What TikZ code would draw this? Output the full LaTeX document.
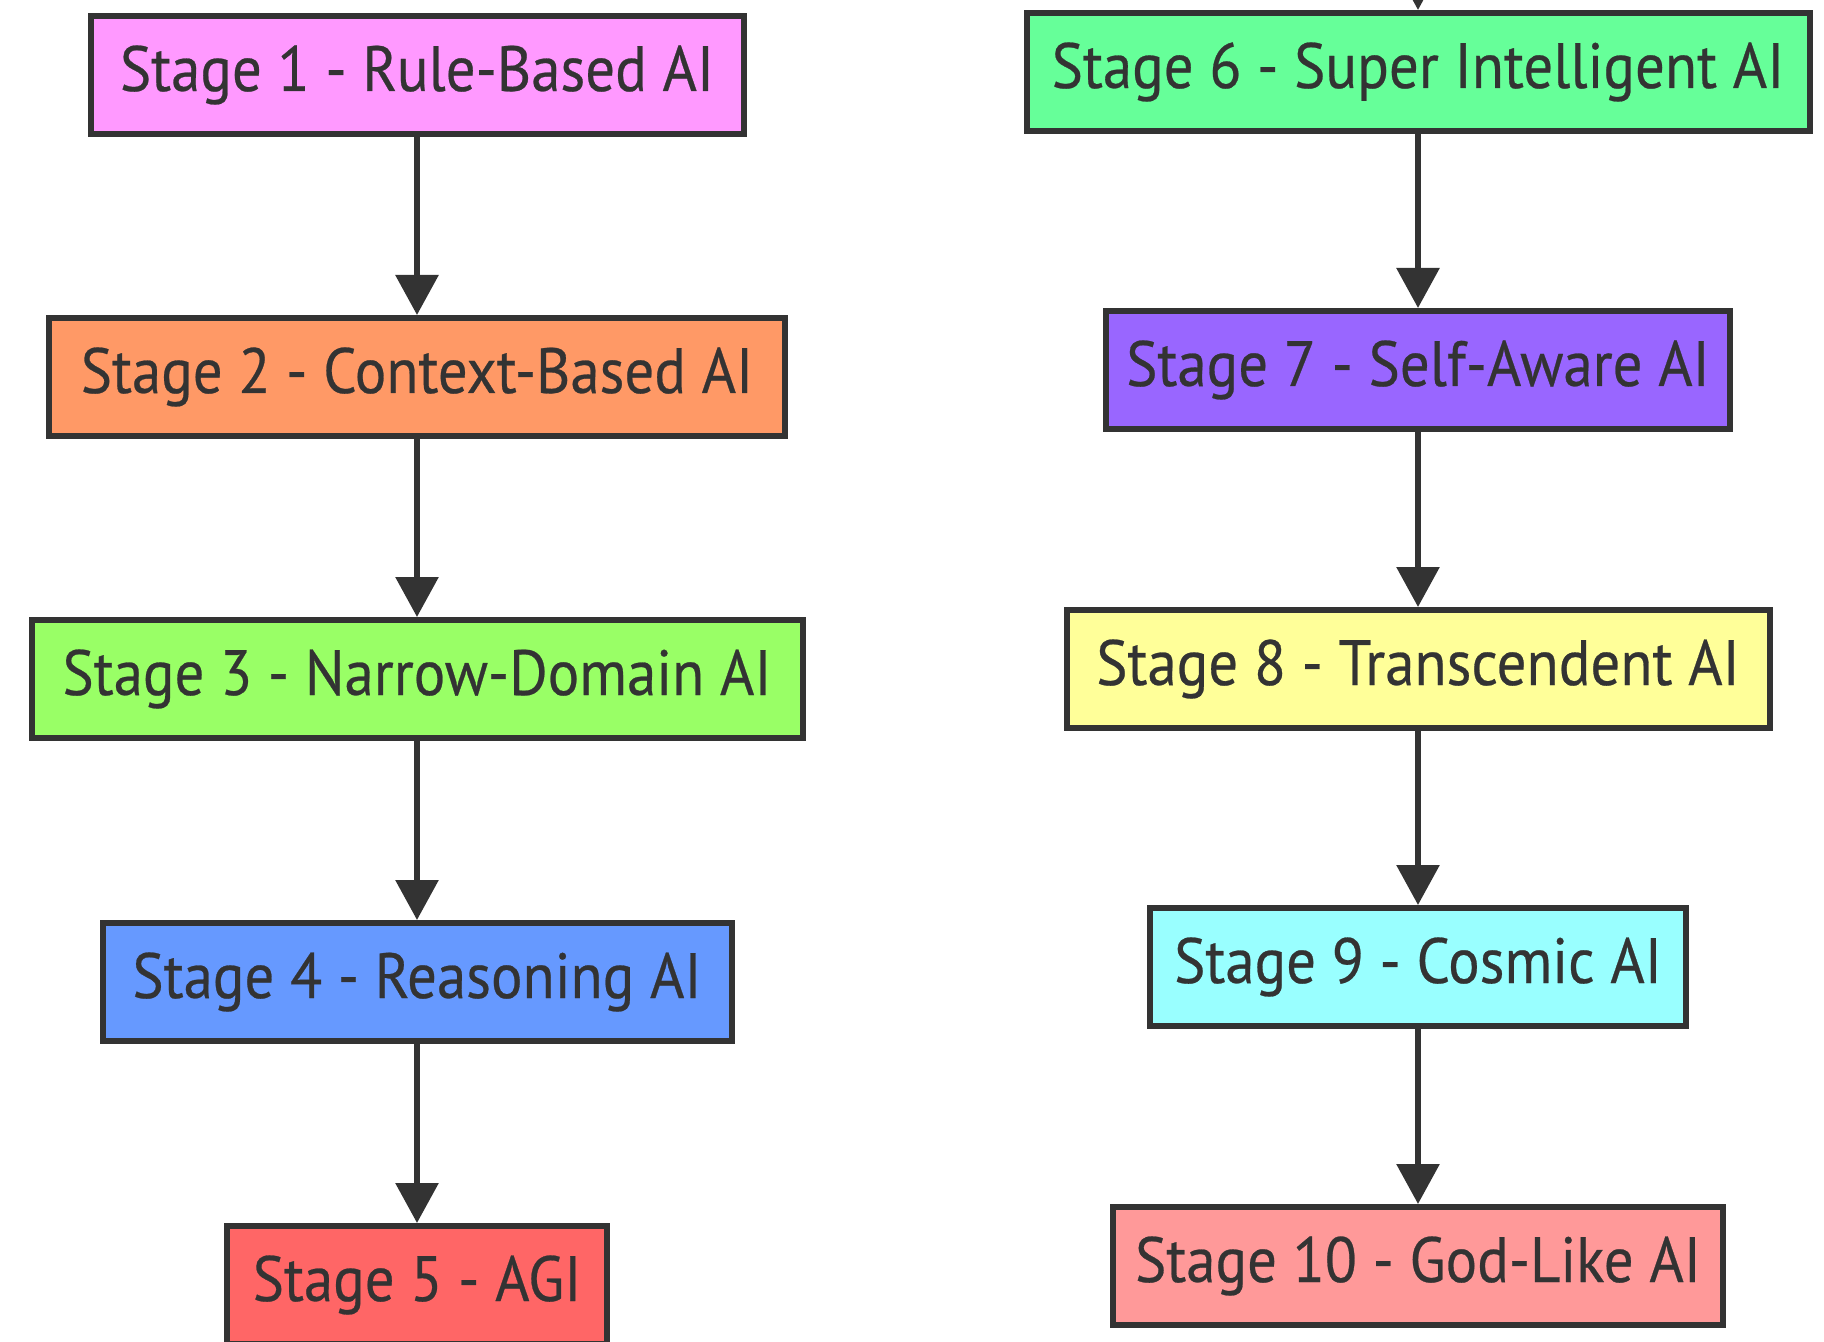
\documentclass[tikz,border=0pt]{standalone}
\usepackage{fontspec}
\setmainfont[FakeStretch=0.92,FakeBold=0.4]{PT Sans}
\usetikzlibrary{arrows.meta}
\definecolor{ink}{HTML}{333333}
\definecolor{cA}{HTML}{FF99FF}
\definecolor{cB}{HTML}{FF9966}
\definecolor{cC}{HTML}{99FF66}
\definecolor{cD}{HTML}{6699FF}
\definecolor{cE}{HTML}{FF6666}
\definecolor{cF}{HTML}{66FF99}
\definecolor{cG}{HTML}{9966FF}
\definecolor{cH}{HTML}{FFFF99}
\definecolor{cI}{HTML}{99FFFF}
\definecolor{cJ}{HTML}{FF9999}
\newcommand{\lbl}[1]{\raisebox{-3.5pt}{#1}}
\tikzset{
  stagebox/.style={draw=ink, line width=3pt, rectangle, minimum height=59pt,
    inner sep=0pt, text=ink, font=\fontsize{32}{38}\selectfont},
  flow/.style={draw=ink, line width=3pt, -{Triangle[width=21pt,length=20pt]}},
}
\begin{document}
\begin{tikzpicture}[x=0.5pt,y=-0.5pt]
\useasboundingbox (0,0) rectangle (1824,1342);
\clip (0,0) rectangle (1824,1342);
\fill[white] (0,0) rectangle (1824,1342);
% left column
\node[stagebox, fill=cA, minimum width=326.5pt] (s1) at (417,75)   {\lbl{Stage 1 - Rule-Based AI}};
\node[stagebox, fill=cB, minimum width=368pt]   (s2) at (417,377)  {\lbl{Stage 2 - Context-Based AI}};
\node[stagebox, fill=cC, minimum width=385.5pt] (s3) at (417,679)  {\lbl{Stage 3 - Narrow-Domain AI}};
\node[stagebox, fill=cD, minimum width=314.5pt] (s4) at (417,982)  {\lbl{Stage 4 - Reasoning AI}};
\node[stagebox, fill=cE, minimum width=190pt]   (s5) at (417,1285) {\lbl{Stage 5 - AGI}};
% right column
\node[stagebox, fill=cF, minimum width=391.5pt] (s6) at (1418,72)   {\lbl{Stage 6 - Super Intelligent AI}};
\node[stagebox, fill=cG, minimum width=312pt]   (s7) at (1418,370)  {\lbl{Stage 7 - Self-Aware AI}};
\node[stagebox, fill=cH, minimum width=351.5pt] (s8) at (1418,669)  {\lbl{Stage 8 - Transcendent AI}};
\node[stagebox, fill=cI, minimum width=268pt]   (s9) at (1418,967)  {\lbl{Stage 9 - Cosmic AI}};
\node[stagebox, fill=cJ, minimum width=305pt]   (s10) at (1418,1266) {\lbl{Stage 10 - God-Like AI}};
\coordinate (in6) at (1418,-80);
% connectors
\draw[flow] (s1) -- (s2);
\draw[flow] (s2) -- (s3);
\draw[flow] (s3) -- (s4);
\draw[flow] (s4) -- (s5);
\draw[flow] (in6) -- (s6);
\draw[flow] (s6) -- (s7);
\draw[flow] (s7) -- (s8);
\draw[flow] (s8) -- (s9);
\draw[flow] (s9) -- (s10);
\end{tikzpicture}
\end{document}
